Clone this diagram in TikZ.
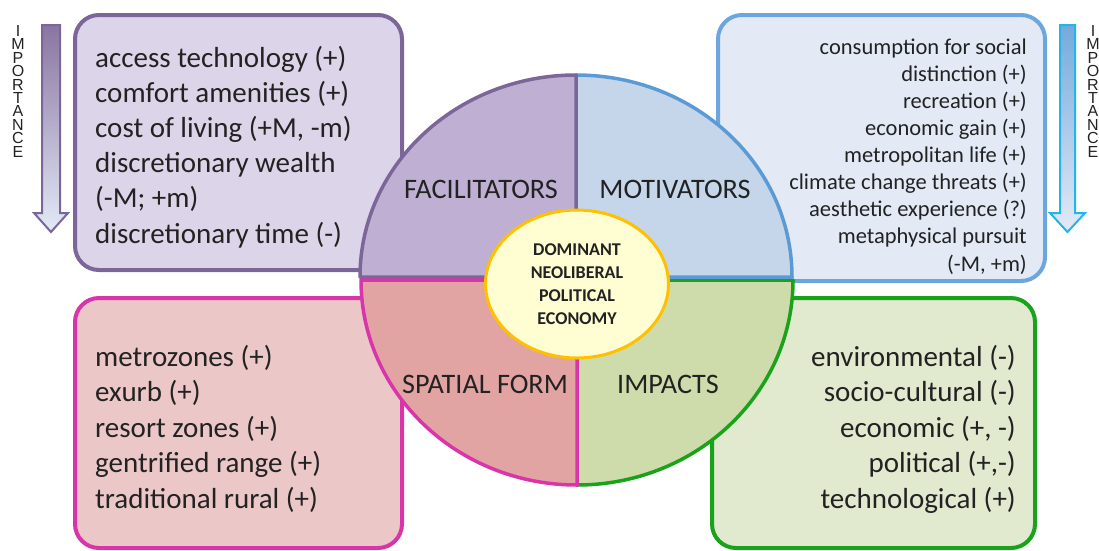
\documentclass[tikz,border=0pt]{standalone}
\usepackage{fontspec}
\setmainfont{Carlito}
\newfontfamily\arialfont{Liberation Sans}
\usetikzlibrary{shapes.geometric}
\definecolor{txt}{HTML}{222222}
\definecolor{purB}{HTML}{7C6598}
\definecolor{purF}{HTML}{DCD4E8}
\definecolor{purQ}{HTML}{BFB0D3}
\definecolor{bluB}{HTML}{6CA6DE}
\definecolor{bluQB}{HTML}{5B9BD5}
\definecolor{bluF}{HTML}{E3EAF6}
\definecolor{bluQ}{HTML}{C5D6EB}
\definecolor{magB}{HTML}{D935AB}
\definecolor{magF}{HTML}{EBC7C7}
\definecolor{magQ}{HTML}{E2A4A3}
\definecolor{grnB}{HTML}{1AA31A}
\definecolor{grnF}{HTML}{E1E9CF}
\definecolor{grnQ}{HTML}{CEDCAB}
\definecolor{gold}{HTML}{FFC000}
\definecolor{lightyel}{HTML}{FFFDD2}
\definecolor{cyanB}{HTML}{22B5EA}
\begin{document}
\begin{tikzpicture}[x=1pt,y=1pt,
  box/.style={rounded corners=24pt, line width=4pt},
  quad/.style={line width=3.5pt, line join=round},
  bigtext/.style={inner sep=0pt, text=txt, font=\fontsize{29}{35.2}\selectfont},
  smalltext/.style={inner sep=0pt, text=txt, font=\fontsize{22.5}{27.1}\selectfont},
  qlabel/.style={inner sep=0pt, text=txt, font=\fontsize{28.2}{33}\selectfont, anchor=base},
  imptext/.style={inner sep=0pt, text=txt, align=center, anchor=base, font=\arialfont\fontsize{16}{13.4}\selectfont}]
\useasboundingbox (0,0) rectangle (1099,-550);
% boxes
\draw[box, draw=purB, fill=purF] (75,-15) rectangle (402,-270);
\draw[box, draw=bluB, fill=bluF] (718,-15) rectangle (1045,-281);
\draw[box, draw=magB, fill=magF] (75,-298) rectangle (402,-548);
\draw[box, draw=grnB, fill=grnF] (712,-298) rectangle (1035,-548);
% importance arrows
\shadedraw[draw=purB, line width=2pt, line join=miter, top color=purB!90!white, middle color=bluQ!90!white, bottom color=bluF]
  (42,-25) -- (60,-25) -- (60,-213) -- (68,-213) -- (51,-232) -- (34,-213) -- (42,-213) -- cycle;
\shadedraw[draw=cyanB, line width=2pt, line join=miter, top color=bluQB!85!white, middle color=bluQ, bottom color=bluF]
  (1060,-25) -- (1075,-25) -- (1075,-213) -- (1085,-213) -- (1067.5,-232) -- (1050,-213) -- (1060,-213) -- cycle;
\node[imptext] (impL) at (18,-157) {I\\M\\P\\O\\R\\T\\A\\N\\C\\E};
\node[imptext] (impR) at (1093,-157) {I\\M\\P\\O\\R\\T\\A\\N\\C\\E};
% quadrants
\draw[quad, draw=grnB, fill=grnQ] (577,-485) arc[start angle=270, end angle=360, x radius=216, y radius=205] -- (577,-280) -- cycle;
\draw[quad, draw=bluQB, fill=bluQ] (576,-75) arc[start angle=90, end angle=0, x radius=216, y radius=202] -- (576,-277) -- cycle;
\draw[quad, draw=purB, fill=purQ] (360,-277) arc[start angle=180, end angle=90, x radius=216, y radius=202] -- (576,-277) -- cycle;
\draw[quad, draw=magB, fill=magQ] (361,-280) arc[start angle=180, end angle=270, x radius=216, y radius=205] -- (577,-280) -- cycle;
% centre
\node[ellipse, draw=gold, fill=lightyel, line width=3pt, minimum width=183pt, minimum height=148pt, inner sep=0pt, text depth=-3pt, align=center, text=txt, font=\bfseries\fontsize{18}{23}\selectfont] (core) at (577,-284) {DOMINANT\\NEOLIBERAL\\POLITICAL\\ECONOMY};
% quadrant labels
\node[qlabel] (lfac) at (481,-198) {FACILITATORS};
\node[qlabel] (lmot) at (675,-198) {MOTIVATORS};
\node[qlabel] (lspa) at (485,-393) {SPATIAL FORM};
\node[qlabel] (limp) at (668,-393) {IMPACTS};
% box texts (anchored at the baseline of the last line)
\node[bigtext, anchor=base west, align=left] (tfac) at (95,-243) {access technology (+)\\comfort amenities (+)\\cost of living (+M, -m)\\discretionary wealth\\(-M; +m)\\discretionary time (-)};
\node[smalltext, anchor=base east, align=right] (tmot) at (1027,-271) {consumption for social\\distinction (+)\\recreation (+)\\economic gain (+)\\metropolitan life (+)\\climate change threats (+)\\aesthetic experience (?)\\metaphysical pursuit\\(-M, +m)};
\node[bigtext, anchor=base west, align=left, font=\fontsize{29}{35.5}\selectfont] (tspa) at (95,-508) {metrozones (+)\\exurb (+)\\resort zones (+)\\gentrified range (+)\\traditional rural (+)};
\node[bigtext, anchor=base east, align=right, font=\fontsize{29}{35.5}\selectfont] (timp) at (1016,-508) {environmental (-)\\socio-cultural (-)\\economic (+, -)\\political (+,-)\\technological (+)};
\end{tikzpicture}
\end{document}
